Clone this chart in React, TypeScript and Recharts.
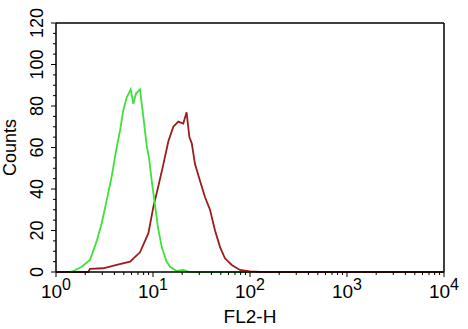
import React from "react";
import { LineChart, Line, XAxis, YAxis, ReferenceLine } from "recharts";

// FL2-H intensity (x) and counts (y)
const greenX = [1.39, 1.51, 1.84, 2.24, 2.63, 2.96, 3.33, 3.75, 4.22, 4.57, 4.94, 5.35, 5.89, 6.26, 6.68, 7.34, 7.94, 8.61, 9.16, 9.7, 10.5, 11.3, 12.3, 13.8, 15.0, 17.5, 20.5, 24.1, 100];
const greenY = [0, 0.5, 2.5, 5.8, 15, 23.5, 34.5, 46, 60, 68, 78, 84, 88, 81, 86, 88, 75, 61, 54, 44, 32, 21, 12, 5, 2.5, 0.5, 1, 0, 0];

const redX = [1, 2.15, 2.24, 3.07, 4.22, 5.79, 7.34, 8.95, 10.1, 11.3, 12.8, 14.4, 16.2, 18.2, 20.5, 22.2, 23.7, 25.1, 27.1, 30.5, 34.4, 38.7, 43.6, 49.1, 55.2, 64.8, 78.8, 100, 126, 10000];
const redY = [0, 0, 1.5, 1.8, 3.4, 5, 9.5, 18.6, 31.5, 41, 52, 63, 70, 72.5, 71.5, 77, 65, 62, 52, 44, 36, 30, 20, 12, 6.6, 3.4, 1, 0.3, 0, 0];

const xTicks = [
  1, 2, 3, 4, 5, 6, 7, 8, 9,
  10, 20, 30, 40, 50, 60, 70, 80, 90,
  100, 200, 300, 400, 500, 600, 700, 800, 900,
  1000, 2000, 3000, 4000, 5000, 6000, 7000, 8000, 9000,
  10000,
];
const xMajor = [1, 10, 100, 1000, 10000];
const xExp = ["0", "1", "2", "3", "4"];

const yTicks = [0, 5, 10, 15, 20, 25, 30, 35, 40, 45, 50, 55, 60, 65, 70, 75, 80, 85, 90, 95, 100, 105, 110, 115, 120];
const yLabels = [0, 20, 40, 60, 80, 100, 120];

const greenData = greenX.map((x, i) => ({ x, y: greenY[i] }));
const redData = redX.map((x, i) => ({ x, y: redY[i] }));

const FONT = "'Liberation Sans', Arial, sans-serif";

function XTick({ x, y, payload }: any) {
  const idx = xMajor.indexOf(payload.value);
  const major = idx >= 0;
  return (
    <g>
      <line x1={x} x2={x} y1={y} y2={y + (major ? 5 : 3)} stroke="#000" strokeWidth={1} />
      {major && (
        <text x={x} y={y + 26} textAnchor="middle" fontFamily={FONT} fontSize={19} fill="#000">
          <tspan>10</tspan>
          <tspan dy={-8} fontSize={16}>{xExp[idx]}</tspan>
        </text>
      )}
    </g>
  );
}

function YTick({ x, y, payload }: any) {
  const major = yLabels.includes(payload.value);
  return (
    <g>
      <line x1={x - (major ? 5 : 3)} x2={x} y1={y} y2={y} stroke="#000" strokeWidth={1} />
      {major && (
        <text
          x={x - 13}
          y={y}
          textAnchor="middle"
          transform={`rotate(-90, ${x - 13}, ${y})`}
          fontFamily={FONT}
          fontSize={18}
          fill="#000"
        >
          {payload.value}
        </text>
      )}
    </g>
  );
}

function CountsLabel({ viewBox }: any) {
  const cy = viewBox.y + viewBox.height / 2;
  return (
    <text
      x={16}
      y={cy}
      textAnchor="middle"
      transform={`rotate(-90, 16, ${cy})`}
      fontFamily={FONT}
      fontSize={18}
      fill="#000"
    >
      Counts
    </text>
  );
}

function XLabel({ viewBox }: any) {
  const cx = viewBox.x + viewBox.width / 2;
  return (
    <text x={cx} y={323} textAnchor="middle" fontFamily={FONT} fontSize={19} fill="#000">
      FL2-H
    </text>
  );
}

export default function App() {
  return (
    <div style={{ position: "absolute", left: 0, top: 0, width: 468, height: 329, background: "#fff" }}>
      <LineChart width={468} height={329} margin={{ top: 23, right: 24, left: 0, bottom: 0 }}>
        <XAxis
          dataKey="x"
          type="number"
          scale="log"
          domain={[1, 10000]}
          ticks={xTicks}
          interval={0}
          allowDataOverflow
          height={57}
          tickSize={0}
          tickMargin={0}
          tickLine={false}
          tick={<XTick />}
          axisLine={{ stroke: "#000", strokeWidth: 1.5 }}
          label={<XLabel />}
        />
        <YAxis
          dataKey="y"
          type="number"
          domain={[0, 120]}
          ticks={yTicks}
          interval={0}
          width={56}
          tickSize={0}
          tickMargin={0}
          tickLine={false}
          tick={<YTick />}
          axisLine={{ stroke: "#000", strokeWidth: 1.5 }}
          label={<CountsLabel />}
        />
        <ReferenceLine y={120} stroke="#000" strokeWidth={1.5} />
        <ReferenceLine x={10000} stroke="#000" strokeWidth={1.5} />
        <Line
          data={redData}
          dataKey="y"
          type="linear"
          stroke="#9b1c1c"
          strokeWidth={1.8}
          dot={false}
          isAnimationActive={false}
        />
        <Line
          data={greenData}
          dataKey="y"
          type="linear"
          stroke="#3ee03a"
          strokeWidth={1.8}
          dot={false}
          isAnimationActive={false}
        />
      </LineChart>
    </div>
  );
}
